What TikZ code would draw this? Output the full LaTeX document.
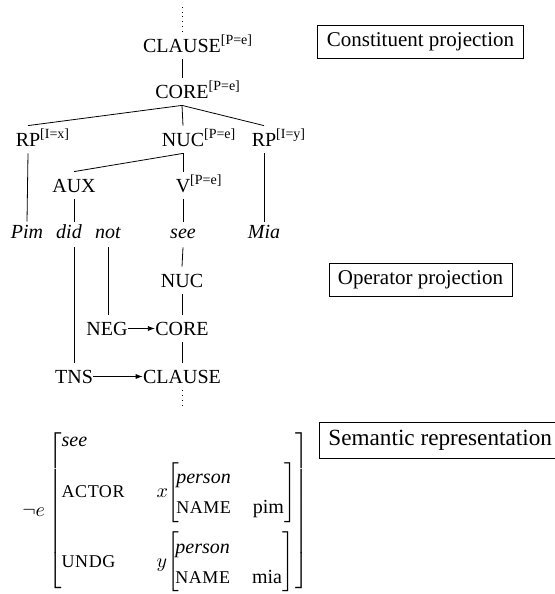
\documentclass[tikz,border=0pt]{standalone}
\usepackage{fontspec}
\setmainfont{Liberation Serif}
\usetikzlibrary{arrows.meta}

\newcommand\feat[1]{\rlap{\textsuperscript{[#1]}}}
\newcommand\fsc[1]{\mbox{\fontsize{9pt}{10pt}\selectfont\addfontfeature{LetterSpace=3}#1}}
\newcommand\avm[2]{\left[\!\def\arraystretch{1.25}\begin{array}{@{}l@{\hspace{11pt}}l@{}}
    \textit{#1} & \\ \fsc{NAME} & \mbox{#2}\end{array}\right]}

\tikzset{
  cat/.style={anchor=base,inner xsep=0pt,inner ysep=1.5pt,text height=8.5pt,text depth=2pt},
  word/.style={anchor=base,inner xsep=0pt,inner ysep=1.5pt,text height=6.5pt,text depth=3pt,font=\itshape},
  projbox/.style={draw,inner xsep=4.5pt,inner ysep=3.75pt,font=\fontsize{10.5pt}{12pt}\selectfont},
  oparrow/.style={-{Latex[length=3.5pt,width=2.5pt]}}
}

\begin{document}
\begin{tikzpicture}[x=0.5pt,y=-0.5pt]
  \useasboundingbox (0,0) rectangle (554,594);
  % constituent projection
  \node[cat] (clause) at (182,52) {CLAUSE\feat{P=e}};
  \node[cat] (core) at (182,98) {CORE\feat{P=e}};
  \node[cat] (rpx) at (28,146) {RP\feat{I=x}};
  \node[cat] (nuc) at (183,146) {NUC\feat{P=e}};
  \node[cat] (rpy) at (264,146) {RP\feat{I=y}};
  \node[cat] (aux) at (74,192) {AUX};
  \node[cat] (verb) at (183,192) {V\feat{P=e}};
  \coordinate (top) at (182,5);
  \draw[dotted] (clause.north) -- (top);
  \draw (clause.south) -- (core.north);
  \foreach \n in {rpx,nuc,rpy} \draw (core.south) -- (\n.north);
  \draw (nuc.south) -- (aux.north); \draw (nuc.south) -- (verb.north);
  % the words
  \node[word] (pim) at (27,238) {Pim};
  \node[word] (did) at (69,238) {did};
  \node[word] (not) at (108,238) {not};
  \node[word] (see) at (183,238) {see};
  \node[word] (mia) at (264,238) {Mia};
  \draw (rpx.south) -- (pim.north); \draw (rpy.south) -- (mia.north);
  \draw (aux.south) -- (aux.south |- did.north); \draw (verb.south) -- (see.north);
  % operator projection
  \node[cat] (opnuc) at (182,287) {NUC};
  \node[cat] (neg) at (107,335) {NEG};
  \node[cat] (opcore) at (182,335) {CORE};
  \node[cat] (tns) at (74,383) {TNS};
  \node[cat] (opclause) at (182,383) {CLAUSE};
  \coordinate (bottom) at (182,407);
  \draw (see.south) -- (opnuc.north);
  \draw (opnuc.south) -- (opcore.north); \draw (opcore.south) -- (opclause.north);
  \draw (not.south) -- (not.south |- neg.north);
  \draw (tns.north |- did.south) -- (tns.north);
  \draw[oparrow] (neg) -- (opcore);
  \draw[oparrow] (tns) -- (opclause);
  \draw[dotted] (opclause.south) -- (bottom);
  % the three labels
  \node[projbox] (conlabel) at (420.5,42) {Constituent projection};
  \node[projbox] (oplabel) at (420.5,280) {Operator projection};
  \node[projbox,anchor=west,font=\fontsize{11.6pt}{13pt}\selectfont] (semlabel) at (319,440.5) {Semantic representation};
  % semantic representation
  \node[anchor=base west,inner sep=0pt] (sem) at (22,516) {$
    \neg e\left[\begin{array}{@{}l@{\hspace{16pt}}l@{}}
      \textit{see} & \\[4.5pt]
      \fsc{ACTOR} & x\!\avm{person}{pim}\\[13.5pt]
      \fsc{UNDG} & y\!\avm{person}{mia}
    \end{array}\delimitershortfall=-1pt\right]$};
\end{tikzpicture}
\end{document}
